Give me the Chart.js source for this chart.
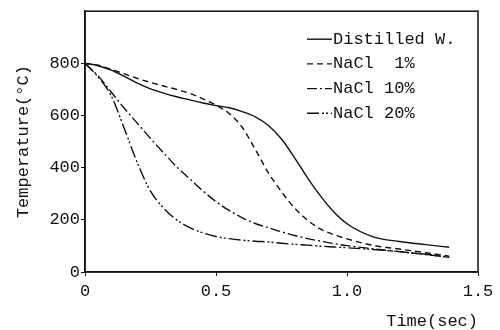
<!DOCTYPE html>
<html>
<head>
<meta charset="utf-8">
<script src="https://cdn.jsdelivr.net/npm/chart.js@4.4.0/dist/chart.umd.min.js"></script>
<style>
  html, body { margin: 0; padding: 0; background: #fff; }
</style>
</head>
<body>
<canvas id="grafico" width="500" height="330"></canvas>
<script>
// tempo (s) comum a todas as curvas
const tempos = [0, 0.05, 0.1, 0.15, 0.2, 0.25, 0.3, 0.35, 0.4, 0.45, 0.5, 0.55, 0.6, 0.65, 0.7, 0.75, 0.8, 0.85, 0.9, 0.95, 1.0, 1.1, 1.2, 1.3, 1.39]

// temperaturas (°C)
const aguaDestilada = [800, 791, 774, 750, 724, 702, 686, 672, 660, 648, 638, 630, 615, 595, 562, 510, 438, 360, 290, 230, 185, 135, 117, 105, 95]
const nacl1 = [800, 793, 777, 760, 742, 727, 713, 700, 685, 664, 640, 608, 555, 470, 380, 308, 245, 198, 164, 143, 127, 102, 88, 74, 61]
const nacl10 = [800, 752, 690, 628, 570, 512, 457, 403, 357, 311, 270, 236, 208, 186, 170, 154, 140, 128, 118, 109, 101, 89, 78, 67, 57]
const nacl20 = [800, 748, 676, 550, 418, 310, 245, 200, 170, 150, 136, 128, 122, 118, 115, 110, 106, 103, 99, 96, 93, 86, 78, 68, 56]

const rotulos = ['Distilled W.', 'NaCl  1%', 'NaCl 10%', 'NaCl 20%']
const series = [aguaDestilada, nacl1, nacl10, nacl20]
const tracos = [[], [6, 4], [10, 3, 2, 3], [12, 3, 2, 2, 2, 3]]

const xTicks = [0, 0.5, 1.0, 1.5]
const yTicks = [0, 200, 400, 600, 800]

const fonte = { family: '"Liberation Mono", "DejaVu Sans Mono", monospace', size: 17 }

function montaPontos(valores) {
    let pts = []
    for (let i = 0; i < valores.length; i++) {
        pts.push({ x: tempos[i], y: valores[i] })
    }
    return pts
}

let datasets = []
for (let i = 0; i < series.length; i++) {
    datasets.push({
        label: rotulos[i],
        data: montaPontos(series[i]),
        borderColor: '#111',
        borderWidth: 1.4,
        borderDash: tracos[i],
        pointRadius: 0,
        fill: false,
        cubicInterpolationMode: 'monotone'
    })
}

// moldura em volta da area do grafico
const moldura = {
    id: 'moldura',
    afterDraw(chart) {
        const a = chart.chartArea
        const ctx = chart.ctx
        ctx.save()
        ctx.strokeStyle = '#111'
        ctx.lineWidth = 1.5
        ctx.strokeRect(a.left, a.top, a.right - a.left, a.bottom - a.top)
        ctx.restore()
    }
}

// legenda dentro do grafico, canto superior direito
const legendaInterna = {
    id: 'legendaInterna',
    afterDraw(chart) {
        const a = chart.chartArea
        const ctx = chart.ctx
        ctx.save()
        ctx.font = fonte.size + 'px ' + fonte.family
        ctx.fillStyle = '#111'
        ctx.textBaseline = 'middle'
        chart.data.datasets.forEach((ds, i) => {
            const y = a.top + 28 + i * 24.7
            const x0 = a.right - 171
            ctx.beginPath()
            ctx.setLineDash(ds.borderDash)
            ctx.lineWidth = 1.4
            ctx.strokeStyle = '#111'
            ctx.moveTo(x0, y)
            ctx.lineTo(x0 + 25, y)
            ctx.stroke()
            ctx.setLineDash([])
            ctx.fillText(ds.label, x0 + 26, y)
        })
        ctx.restore()
    }
}

new Chart(document.getElementById('grafico'), {
    type: 'line',
    data: { datasets: datasets },
    plugins: [moldura, legendaInterna],
    options: {
        responsive: false,
        animation: false,
        devicePixelRatio: 1,
        layout: { autoPadding: false, padding: { top: 8, right: 22, bottom: 0, left: 0 } },
        plugins: { legend: { display: false }, tooltip: { enabled: false } },
        scales: {
            x: {
                type: 'linear',
                min: 0,
                max: 1.5,
                afterFit(scale) { scale.height = 58 },
                afterBuildTicks(scale) { scale.ticks = xTicks.map(v => ({ value: v })) },
                border: { color: '#111', width: 1.5 },
                grid: { drawOnChartArea: false, tickLength: 4, color: '#111' },
                ticks: {
                    color: '#111',
                    font: fonte,
                    padding: 5,
                    maxRotation: 0,
                    callback: v => v === 0 ? '0' : v.toFixed(1)
                },
                title: {
                    display: true,
                    text: 'Time(sec)',
                    align: 'end',
                    color: '#111',
                    font: { family: fonte.family, size: 17, lineHeight: 1 },
                    padding: { top: 0, bottom: 0 }
                }
            },
            y: {
                min: 0,
                max: 1000,
                afterFit(scale) { scale.width = 85 },
                afterBuildTicks(scale) { scale.ticks = yTicks.map(v => ({ value: v })) },
                border: { color: '#111', width: 1.5 },
                grid: { drawOnChartArea: false, tickLength: 4, color: '#111' },
                ticks: { color: '#111', font: fonte, padding: 1 },
                title: {
                    display: true,
                    text: 'Temperature(°C)',
                    color: '#111',
                    font: fonte,
                    padding: { top: 13, bottom: 0 }
                }
            }
        }
    }
})
</script>
</body>
</html>
